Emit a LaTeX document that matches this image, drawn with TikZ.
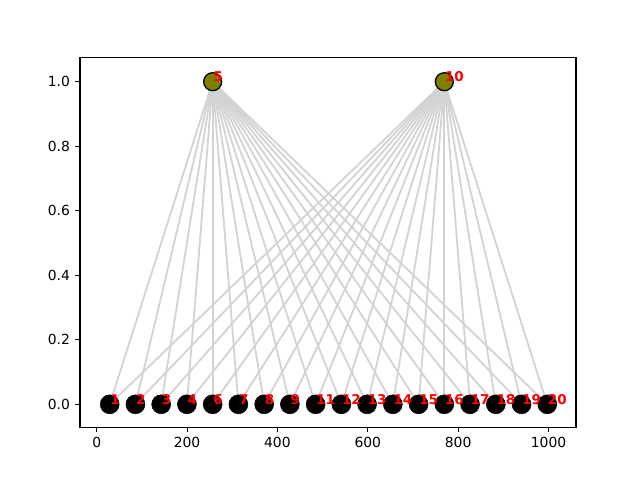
\documentclass[tikz,border=0pt]{standalone}
\usepackage{fontspec}
\setmainfont{DejaVu Sans}
\begin{document}
\begin{tikzpicture}[x=1pt,y=-1pt,
  edge/.style={draw={rgb,255:red,211;green,211;blue,211},line width=1.8pt},
  botnode/.style={circle,fill=black,draw=black,line width=0.5pt,inner sep=0pt,minimum size=19pt},
  topnode/.style={circle,fill={rgb,255:red,128;green,128;blue,0},draw=black,line width=1.3pt,inner sep=0pt,minimum size=18pt},
  lbl/.style={text=red,font=\fontsize{13.5}{14}\selectfont\bfseries,inner sep=0pt,anchor=base west},
  ticklbl/.style={font=\fontsize{13.9}{14}\selectfont,inner sep=0pt,text=black},
  spine/.style={draw=black,line width=1.1pt},
  tick/.style={draw=black,line width=1.1pt}]
\useasboundingbox (0,0) rectangle (640,480);
\fill[white] (0,0) rectangle (640,480);
% axes frame
\coordinate (axnw) at (80,57.6);
\coordinate (axse) at (576,427.2);
% nodes positions
\def\xb{109.7}\def\sx{25.74}
\foreach \n [count=\k from 0] in {1,2,3,4,6,7,8,9,11,12,13,14,15,16,17,18,19,20}
  \coordinate (n\n) at ({\xb+\k*\sx},404.3);
\coordinate (n5) at ({\xb+4*\sx},81.7);
\coordinate (n10) at ({\xb+13*\sx},81.7);
% edges
\foreach \t in {5,10}
  \foreach \n in {1,2,3,4,6,7,8,9,11,12,13,14,15,16,17,18,19,20}
    \draw[edge] (n\t) -- (n\n);
% nodes
\foreach \n in {1,2,3,4,6,7,8,9,11,12,13,14,15,16,17,18,19,20}
  \node[botnode] (m\n) at (n\n) {};
\node[topnode] (m5) at (n5) {};
\node[topnode] (m10) at (n10) {};
% labels
\foreach \n in {1,2,3,4,5,6,7,8,9,10,11,12,13,14,15,16,17,18,19,20}
  \node[lbl] (l\n) at ([xshift=0.5pt]m\n.center) {\n};
% frame
\draw[spine] (axnw) rectangle (axse);
% x ticks
\foreach \v [count=\i from 0] in {0,200,400,600,800,1000}{
  \coordinate (xt\i) at ({96.7+\i*90.36},427.2);
  \draw[tick] (xt\i) -- ++(0,4.9);
  \node[ticklbl,anchor=north] (xl\i) at ([yshift=-9.3pt]xt\i) {\v};
}
% y ticks
\foreach \v [count=\i from 0] in {0.0,0.2,0.4,0.6,0.8,1.0}{
  \coordinate (yt\i) at (80,{404.3-\i*64.52});
  \draw[tick] (yt\i) -- ++(-4.9,0);
  \node[ticklbl,anchor=east] (yl\i) at ([xshift=-9.8pt]yt\i) {\v};
}
\end{tikzpicture}
\end{document}
